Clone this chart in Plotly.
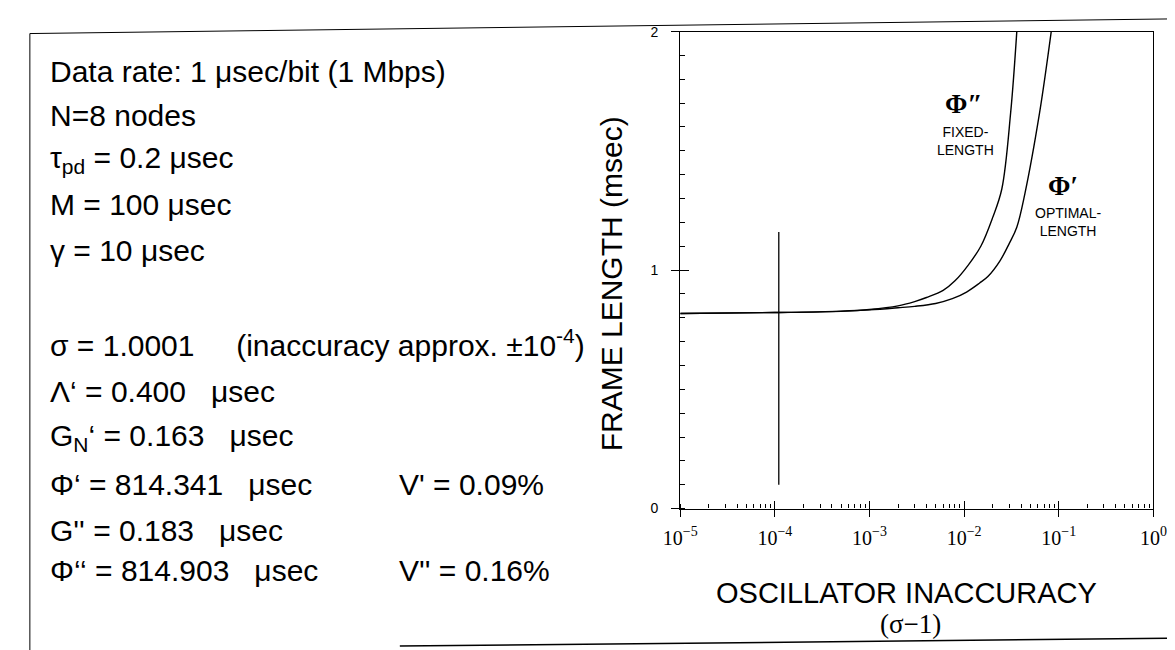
import plotly.graph_objects as go

# ---- data ----
x_fixed = [1e-5, 1e-4, 5e-4, 1e-3, 2e-3, 3e-3, 4e-3, 6e-3, 8e-3, 0.011, 0.015, 0.02, 0.025, 0.031, 0.036]
y_fixed = [0.818, 0.822, 0.828, 0.835, 0.850, 0.868, 0.885, 0.915, 0.955, 1.02, 1.10, 1.22, 1.34, 1.66, 2.0]

x_opt = [1e-5, 1e-4, 5e-4, 1e-3, 2e-3, 3e-3, 5e-3, 7.5e-3, 0.0106, 0.0145, 0.0178, 0.024, 0.030, 0.036, 0.0438, 0.0625, 0.0832]
y_opt = [0.818, 0.822, 0.827, 0.833, 0.842, 0.848, 0.860, 0.880, 0.908, 0.945, 0.973, 1.04, 1.112, 1.18, 1.32, 1.657, 2.0]

x_marker = [1.1e-4, 1.1e-4]
y_marker = [0.10, 1.16]

x_tickvals = [1e-5, 1e-4, 1e-3, 1e-2, 1e-1, 1]
x_ticktext = ["10<sup>\u22125</sup>", "10<sup>\u22124</sup>", "10<sup>\u22123</sup>",
              "10<sup>\u22122</sup>", "10<sup>\u22121</sup>", "10<sup>0</sup>"]
y_tickvals = [0, 1, 2]
y_ticktext = ["0", "1", "2"]

NB = "\u00a0"
param_lines = [
    "Data rate: 1 \u03bcsec/bit (1 Mbps)",
    "N=8 nodes",
    "\u03c4<sub>pd</sub> = 0.2 \u03bcsec",
    "M = 100 \u03bcsec",
    "\u03b3 = 10 \u03bcsec",
    "\u03c3 = 1.0001 " + NB * 4 + "(inaccuracy approx. \u00b110<sup>-4</sup>)",
    "\u039b\u2018 = 0.400 " + NB * 2 + "\u03bcsec",
    "G<sub>N</sub>\u2018 = 0.163 " + NB * 2 + "\u03bcsec",
    "\u03a6\u2018 = 814.341 " + NB * 2 + "\u03bcsec",
    "G'' = 0.183 " + NB * 2 + "\u03bcsec",
    "\u03a6\u2018\u2018 = 814.903 " + NB * 2 + "\u03bcsec",
]
param_y = [57, 102, 147, 193, 240, 335, 385, 432, 480, 527, 568]
v_lines = ["V' = 0.09%", "V'' = 0.16%"]
v_y = [480, 568]

W, H = 1175, 650
def px(x): return x / W
def py(y): return 1 - y / H

sans = "Liberation Sans, Arial, sans-serif"
serif = "Liberation Serif, Times New Roman, serif"

fig = go.Figure()
fig.add_trace(go.Scatter(x=x_fixed, y=y_fixed, mode="lines",
                         line=dict(color="black", width=1.4, shape="spline"), showlegend=False))
fig.add_trace(go.Scatter(x=x_opt, y=y_opt, mode="lines",
                         line=dict(color="black", width=1.4, shape="spline"), showlegend=False))
fig.add_trace(go.Scatter(x=x_marker, y=y_marker, mode="lines", xaxis="x2", yaxis="y2",
                         line=dict(color="black", width=1.3), showlegend=False))

ann = []
for t, y in zip(param_lines, param_y):
    ann.append(dict(text=t, x=px(24), y=py(y), xref="paper", yref="paper", xanchor="left", yanchor="middle",
                    showarrow=False, font=dict(family=sans, size=30, color="black")))
for t, y in zip(v_lines, v_y):
    ann.append(dict(text=t, x=px(382), y=py(y), xref="paper", yref="paper", xanchor="left", yanchor="middle",
                    showarrow=False, font=dict(family=sans, size=30, color="black")))

# axis titles
ann.append(dict(text="FRAME LENGTH (msec)", x=px(602), y=py(275), xref="paper", yref="paper", textangle=-90,
                showarrow=False, xanchor="center", yanchor="middle", font=dict(family=sans, size=30, color="black")))
ann.append(dict(text="OSCILLATOR INACCURACY", x=px(905), y=py(592), xref="paper", yref="paper",
                showarrow=False, xanchor="center", yanchor="middle", font=dict(family=sans, size=29, color="black")))
ann.append(dict(text="(\u03c3\u22121)", x=px(909), y=py(623), xref="paper", yref="paper",
                showarrow=False, xanchor="center", yanchor="middle", font=dict(family=serif, size=27, color="black")))

# curve labels
ann.append(dict(text="<b>\u03a6\u2033</b>", x=px(964), y=py(90), xref="paper", yref="paper", showarrow=False,
                xanchor="center", yanchor="middle", font=dict(family=serif, size=27, color="black")))
ann.append(dict(text="FIXED-<br>LENGTH", x=px(966), y=py(128), xref="paper", yref="paper", showarrow=False,
                xanchor="center", yanchor="middle", align="center", font=dict(family=sans, size=14, color="black")))
ann.append(dict(text="<b>\u03a6\u2032</b>", x=px(1066), y=py(174), xref="paper", yref="paper", showarrow=False,
                xanchor="center", yanchor="middle", font=dict(family=serif, size=27, color="black")))
ann.append(dict(text="OPTIMAL-<br>LENGTH", x=px(1071), y=py(211), xref="paper", yref="paper", showarrow=False,
                xanchor="center", yanchor="middle", align="center", font=dict(family=sans, size=14, color="black")))

# page frame (scan border)
shapes = [
    dict(type="line", xref="paper", yref="paper", x0=px(5), y0=py(650), x1=px(5), y1=py(18), line=dict(color="black", width=1)),
    dict(type="line", xref="paper", yref="paper", x0=px(5), y0=py(18), x1=px(1175), y1=py(3), line=dict(color="black", width=1)),
    dict(type="line", xref="paper", yref="paper", x0=px(385), y0=py(646), x1=px(1175), y1=py(638), line=dict(color="black", width=1.5)),
]

xdom = [px(673), px(1159)]
ydom = [py(505), py(16)]

fig.update_layout(
    width=W, height=H, margin=dict(l=0, r=0, t=0, b=0),
    paper_bgcolor="white", plot_bgcolor="white",
    annotations=ann, shapes=shapes, showlegend=False,
    xaxis=dict(type="log", range=[-5, 0], domain=xdom, showgrid=False, zeroline=False,
               showline=True, linecolor="black", linewidth=1.3, mirror=True,
               tickvals=x_tickvals, ticktext=x_ticktext, ticks="outside", ticklen=7, tickwidth=1.2, tickcolor="black",
               ticklabelstandoff=4,
               tickfont=dict(family=serif, size=20, color="black"),
               minor=dict(ticks="inside", ticklen=4, tickcolor="black", dtick="D1", showgrid=False)),
    yaxis=dict(range=[0, 2], domain=ydom, showgrid=False, zeroline=False,
               showline=True, linecolor="black", linewidth=1.3, mirror=True,
               tickvals=y_tickvals, ticktext=y_ticktext, ticks="outside", ticklen=8, tickwidth=1.2, tickcolor="black",
               ticklabelstandoff=10,
               tickfont=dict(family=sans, size=14, color="black"),
               minor=dict(ticks="inside", ticklen=5, tickcolor="black", dtick=0.1, showgrid=False)),
    xaxis2=dict(type="log", range=[-5, 0], domain=xdom, overlaying="x", anchor="y2", showgrid=False, zeroline=False,
                showline=False, tickvals=x_tickvals, ticks="inside", ticklen=8, tickwidth=1.2, tickcolor="black",
                showticklabels=False, side="bottom"),
    yaxis2=dict(range=[0, 2], domain=ydom, overlaying="y", anchor="x2", showgrid=False, zeroline=False,
                showline=False, tickvals=y_tickvals, ticks="inside", ticklen=9, tickwidth=1.2, tickcolor="black",
                showticklabels=False, side="left"),
)

fig.write_html("out.html")
